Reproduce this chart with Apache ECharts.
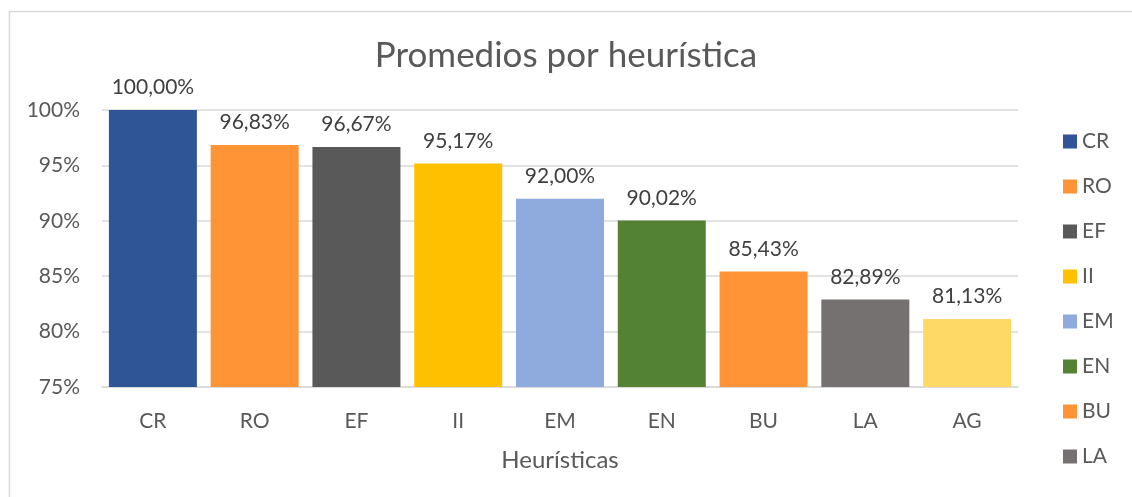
<!DOCTYPE html>
<html>
<head>
<meta charset="utf-8">
<script src="https://cdn.jsdelivr.net/npm/echarts@6/dist/echarts.min.js"></script>
<style>
  html, body { margin: 0; padding: 0; background: #fff; }
  #main { width: 1132px; height: 497px; }
</style>
</head>
<body>
<div id="main"></div>
<script>
// categorías y valores (%)
const categories = ['CR', 'RO', 'EF', 'II', 'EM', 'EN', 'BU', 'LA', 'AG'];
const values = [100.00, 96.83, 96.67, 95.17, 92.00, 90.02, 85.43, 82.89, 81.13];
const colors = ['#2F5597', '#FF9437', '#595959', '#FFC000', '#8FAADC', '#548235', '#FF9437', '#767171', '#FFD966'];
const legendItems = ['CR', 'RO', 'EF', 'II', 'EM', 'EN', 'BU', 'LA'];
const yTicks = { min: 75, max: 100, step: 5 };

const font = 'Lato, "Open Sans", sans-serif';

// una serie por heurística para que la leyenda tenga un color por barra
const series = categories.map(function (name, i) {
    const data = categories.map(function (c, j) { return j === i ? values[i] : null; });
    return {
        name: name,
        type: 'bar',
        data: data,
        barWidth: 88,
        barGap: '-100%',
        itemStyle: { color: colors[i] },
        label: {
            show: true,
            position: 'top',
            distance: 12,
            color: '#404040',
            fontSize: 21,
            fontFamily: font,
            formatter: function (p) { return p.value.toFixed(2).replace('.', ',') + '%'; }
        }
    };
});

const myChart = echarts.init(document.getElementById('main'));

const option = {
    animation: false,
    backgroundColor: '#fff',
    textStyle: { fontFamily: font },
    graphic: [{
        type: 'rect',
        shape: { x: 9.5, y: 11.5, width: 1300, height: 700 },
        style: { fill: 'none', stroke: '#d9d9d9', lineWidth: 1.5 },
        silent: true
    }],
    title: {
        text: 'Promedios por heurística',
        left: 'center',
        top: 33,
        textStyle: { color: '#595959', fontSize: 35, fontWeight: 'normal', fontFamily: font }
    },
    legend: {
        data: legendItems,
        orient: 'vertical',
        left: 1058,
        top: 126,
        itemWidth: 14,
        itemHeight: 14,
        itemGap: 24,
        icon: 'rect',
        textStyle: { color: '#595959', fontSize: 21, fontFamily: font }
    },
    grid: { left: 102, right: 114, top: 110, bottom: 110 },
    xAxis: {
        type: 'category',
        data: categories,
        axisLine: { lineStyle: { color: '#d9d9d9', width: 1.5 } },
        axisTick: { show: false },
        axisLabel: { color: '#595959', fontSize: 21, margin: 24, fontFamily: font },
        name: 'Heurísticas',
        nameLocation: 'middle',
        nameGap: 61,
        nameTextStyle: { color: '#595959', fontSize: 24, fontFamily: font }
    },
    yAxis: {
        type: 'value',
        min: yTicks.min,
        max: yTicks.max,
        interval: yTicks.step,
        axisLine: { show: false },
        axisTick: { show: false },
        splitLine: { lineStyle: { color: '#d9d9d9', width: 1.5 } },
        axisLabel: {
            color: '#595959',
            fontSize: 21,
            margin: 22,
            fontFamily: font,
            formatter: function (v) { return v + '%'; }
        }
    },
    series: series
};

myChart.setOption(option);
</script>
</body>
</html>
